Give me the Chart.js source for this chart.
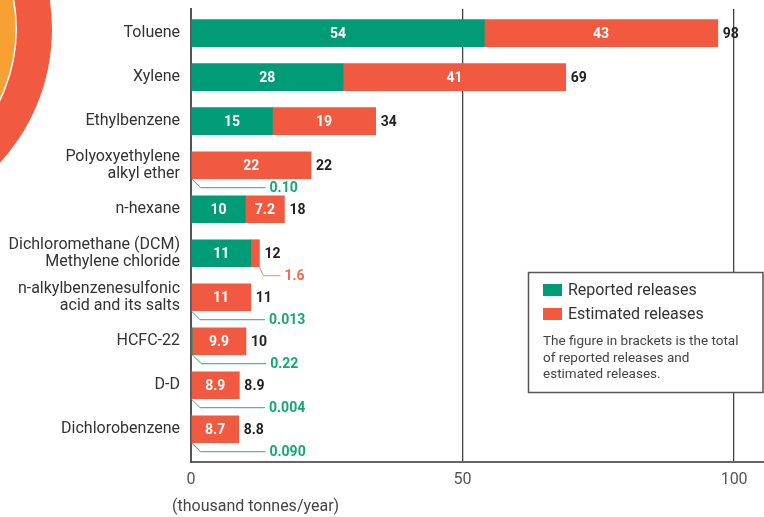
<!DOCTYPE html>
<html lang="en">
<head>
    <meta charset="UTF-8">
    <title>Releases by substance</title>
    <script src="https://cdn.jsdelivr.net/npm/chart.js@4.4.0/dist/chart.umd.min.js"></script>
    <style>
        body {
            margin: 0;
            background: #fff;
            overflow: hidden;
        }
        #wrap {
            width: 764px;
            height: 517px;
        }
    </style>
</head>
<body>
    <div id="wrap"><canvas id="chart" width="764" height="517"></canvas></div>

    <script>
        // data (thousand tonnes/year)
        const categories = [
            'Toluene',
            'Xylene',
            'Ethylbenzene',
            ['Polyoxyethylene', 'alkyl ether'],
            'n-hexane',
            ['Dichloromethane (DCM)', 'Methylene chloride'],
            ['n-alkylbenzenesulfonic', 'acid and its salts'],
            'HCFC-22',
            'D-D',
            'Dichlorobenzene'
        ];
        const reported = ['54', '28', '15', '0.10', '10', '11', '0.013', '0.22', '0.004', '0.090'];
        const estimated = ['43', '41', '19', '22', '7.2', '1.6', '11', '9.9', '8.9', '8.7'];
        const totals = ['98', '69', '34', '22', '18', '12', '11', '10', '8.9', '8.8'];
        const xTicks = [0, 50, 100];

        const GREEN = '#009b77';
        const RED = '#f15a40';
        const FONT = 'Roboto';

        const decor = {
            id: 'decor',
            beforeDraw(chart) {
                const ctx = chart.ctx;
                ctx.save();
                ctx.beginPath();
                ctx.arc(-146, 29, 198, 0, Math.PI * 2);
                ctx.fillStyle = RED;
                ctx.fill();
                ctx.beginPath();
                ctx.arc(-146, 29, 163, 0, Math.PI * 2);
                ctx.fillStyle = '#fff';
                ctx.fill();
                ctx.beginPath();
                ctx.arc(-146, 29, 161.5, 0, Math.PI * 2);
                ctx.fillStyle = '#f7a034';
                ctx.fill();
                ctx.restore();
            }
        };

        const barLabels = {
            id: 'barLabels',
            afterDatasetsDraw(chart) {
                const ctx = chart.ctx;
                const metas = [chart.getDatasetMeta(0), chart.getDatasetMeta(1)];
                const texts = [reported, estimated];
                ctx.save();
                ctx.font = 'bold 14px ' + FONT;
                ctx.textBaseline = 'middle';
                categories.forEach((c, i) => {
                    metas.forEach((meta, d) => {
                        const bar = meta.data[i].getProps(['x', 'y', 'base', 'height'], true);
                        const txt = texts[d][i];
                        if (parseFloat(txt) >= 5) {
                            ctx.fillStyle = '#fff';
                            ctx.textAlign = 'center';
                            ctx.fillText(txt, (bar.x + bar.base) / 2, bar.y + 1);
                        } else {
                            // leader line to a small value
                            const x0 = bar.x, y0 = bar.y + bar.height / 2;
                            const x1 = x0 + (d ? 4 : 9), y1 = y0 + 9;
                            const x2 = x0 + (d ? 21 : 74);
                            ctx.strokeStyle = d ? '#f5876a' : '#2aa880';
                            ctx.lineWidth = 1;
                            ctx.beginPath();
                            ctx.moveTo(x0, y0);
                            ctx.lineTo(x1, y1);
                            ctx.lineTo(x2, y1);
                            ctx.stroke();
                            ctx.fillStyle = d ? '#f26d4f' : '#17a678';
                            ctx.textAlign = 'left';
                            ctx.fillText(txt, x2 + 4, y1 + 1);
                        }
                    });
                    const end = metas[1].data[i].getProps(['x', 'y'], true);
                    ctx.fillStyle = '#222';
                    ctx.textAlign = 'left';
                    ctx.fillText(totals[i], end.x + 5, end.y + 1);
                });
                ctx.restore();
            },
            afterDraw(chart) {
                const ctx = chart.ctx;
                ctx.save();
                // axis unit
                ctx.font = '16px ' + FONT;
                ctx.fillStyle = '#444';
                ctx.textAlign = 'left';
                ctx.textBaseline = 'middle';
                ctx.fillText('(thousand tonnes/year)', 172, 507);

                // legend box
                ctx.fillStyle = '#fff';
                ctx.fillRect(528, 272, 236, 121);
                ctx.strokeStyle = '#555';
                ctx.lineWidth = 1.5;
                ctx.strokeRect(528.5, 272.5, 234.5, 120);
                chart.data.datasets.forEach((ds, k) => {
                    const y = 290 + k * 24;
                    ctx.fillStyle = ds.backgroundColor;
                    ctx.fillRect(543, y - 6, 19, 12);
                    ctx.fillStyle = '#333';
                    ctx.font = '16px ' + FONT;
                    ctx.fillText(ds.label, 568, y + 1);
                });
                ctx.font = '13.5px ' + FONT;
                ctx.fillStyle = '#444';
                ['The figure in brackets is the total',
                 'of reported releases and',
                 'estimated releases.'].forEach((line, k) => {
                    ctx.fillText(line, 543, 342 + k * 16.5);
                });
                ctx.restore();
            }
        };

        new Chart(document.getElementById('chart'), {
            type: 'bar',
            data: {
                datasets: [{
                    label: 'Reported releases',
                    data: reported.map((v, i) => ({ x: parseFloat(v), y: i })),
                    backgroundColor: GREEN,
                    barThickness: 27
                }, {
                    label: 'Estimated releases',
                    data: estimated.map((v, i) => ({ x: parseFloat(v), y: i })),
                    backgroundColor: RED,
                    barThickness: 27
                }]
            },
            options: {
                indexAxis: 'y',
                responsive: false,
                animation: false,
                devicePixelRatio: 1,
                layout: { padding: { top: 9, left: 0, right: 0, bottom: 0 } },
                plugins: {
                    legend: { display: false },
                    tooltip: { enabled: false }
                },
                scales: {
                    x: {
                        type: 'linear',
                        stacked: true,
                        min: 0,
                        max: 105.5,
                        afterBuildTicks: s => { s.ticks = xTicks.map(v => ({ value: v })); },
                        afterFit: s => { s.height = 55; s.paddingLeft = 0; s.paddingRight = 0; },
                        grid: {
                            drawTicks: false,
                            color: c => c.tick && c.tick.value === 0 ? 'rgba(0,0,0,0)' : '#444',
                            lineWidth: 1.3
                        },
                        border: { display: true, color: '#666', width: 2 },
                        ticks: {
                            padding: 8,
                            color: '#555',
                            font: { family: FONT, size: 16 }
                        }
                    },
                    y: {
                        type: 'linear',
                        stacked: true,
                        reverse: true,
                        offset: false,
                        min: -0.55,
                        max: 9.745,
                        afterBuildTicks: s => { s.ticks = categories.map((c, i) => ({ value: i })); },
                        afterFit: s => { s.width = 191; s.paddingTop = 0; s.paddingBottom = 0; },
                        grid: { display: false, drawTicks: false },
                        border: { display: true, color: '#555', width: 2 },
                        ticks: {
                            padding: 11,
                            color: '#333',
                            autoSkip: false,
                            font: { family: FONT, size: 16, lineHeight: 1.08 },
                            callback: v => categories[v]
                        }
                    }
                }
            },
            plugins: [decor, barLabels]
        });
    </script>
</body>
</html>
